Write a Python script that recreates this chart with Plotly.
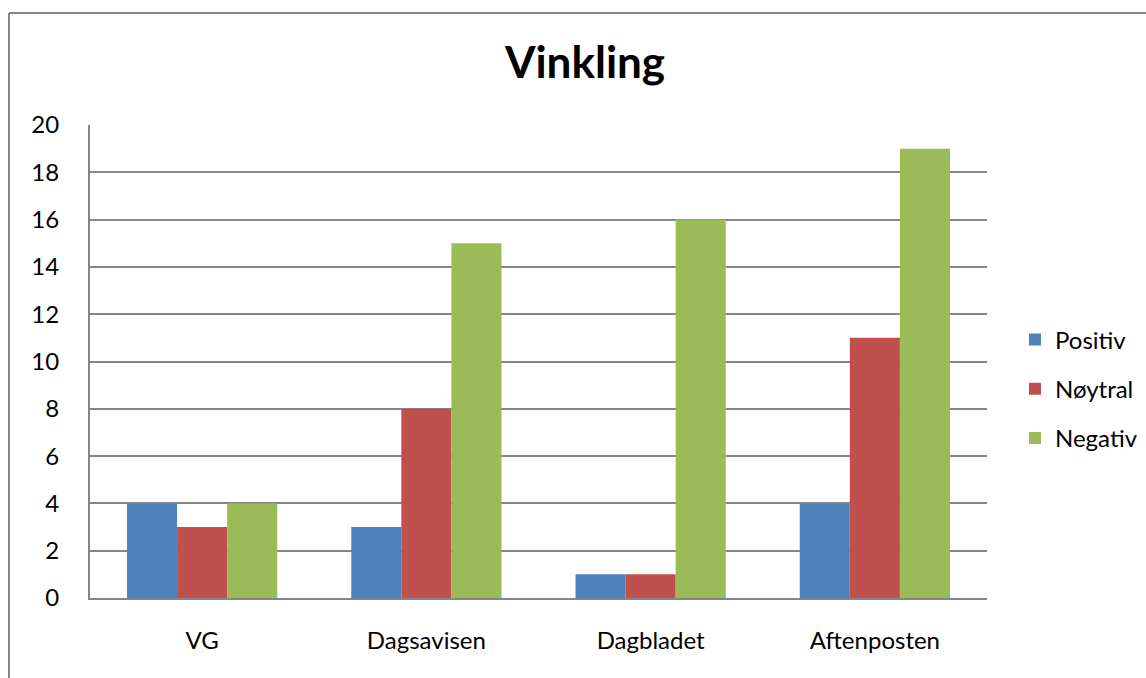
import plotly.graph_objects as go

categories = ["VG", "Dagsavisen", "Dagbladet", "Aftenposten"]
positiv = [4, 3, 1, 4]
noytral = [3, 8, 1, 11]
negativ = [4, 15, 16, 19]
series_names = ["Positiv", "Nøytral", "Negativ"]
colors = ["#4F81BD", "#C0504D", "#9BBB59"]
y_ticks = [0, 2, 4, 6, 8, 10, 12, 14, 16, 18, 20]

FONT = "Lato"

fig = go.Figure()
for name, vals, col in zip(series_names, [positiv, noytral, negativ], colors):
    fig.add_trace(go.Bar(x=categories, y=vals, name=name, marker_color=col,
                         marker_line_width=0, legendgroup=name))

W, H = 1146, 678
L, T = 90, 125
RIGHT, BOTTOM = 987, 598
R, B = W - RIGHT, H - BOTTOM
pw, ph = RIGHT - L, BOTTOM - T

def px_x(p):
    return (p - L) / pw

def px_y(p):
    return (BOTTOM - p) / ph

fig.update_layout(
    width=W, height=H,
    margin=dict(l=L, r=R, t=T, b=B, autoexpand=False),
    paper_bgcolor="white", plot_bgcolor="white",
    barmode="group", bargap=0.33, bargroupgap=0,
    title=dict(text="<b>Vinkling</b>", x=px_x(585), xref="paper", xanchor="center",
               y=1 - 63 / H, yanchor="middle",
               font=dict(family=FONT, size=44, color="black")),
    font=dict(family=FONT, size=24, color="black"),
    legend=dict(x=px_x(1015), xanchor="left", y=px_y(389), yanchor="middle",
                traceorder="grouped", tracegroupgap=15,
                font=dict(family=FONT, size=24, color="black"),
                bgcolor="rgba(0,0,0,0)"),
    xaxis=dict(showline=True, linecolor="#868686", linewidth=2, showgrid=False,
               ticks="", ticklabelstandoff=20, tickfont=dict(size=24)),
    yaxis=dict(range=[0, 20], tickvals=y_ticks, showline=True, linecolor="#868686",
               linewidth=2, showgrid=True, gridcolor="#868686", gridwidth=1.5,
               ticks="", ticklabelstandoff=24, zeroline=False, tickfont=dict(size=24)),
    showlegend=True,
)

# outer chart border (top and left edges visible)
fig.add_shape(type="line", xref="paper", yref="paper",
              x0=px_x(9), x1=px_x(1170), y0=px_y(13), y1=px_y(13),
              line=dict(color="#868686", width=2))
fig.add_shape(type="line", xref="paper", yref="paper",
              x0=px_x(9), x1=px_x(9), y0=px_y(13), y1=px_y(720),
              line=dict(color="#868686", width=2))

fig.write_html("out.html", config={"displayModeBar": False},
               post_script="document.body.style.margin='0';document.body.style.overflow='hidden';")
